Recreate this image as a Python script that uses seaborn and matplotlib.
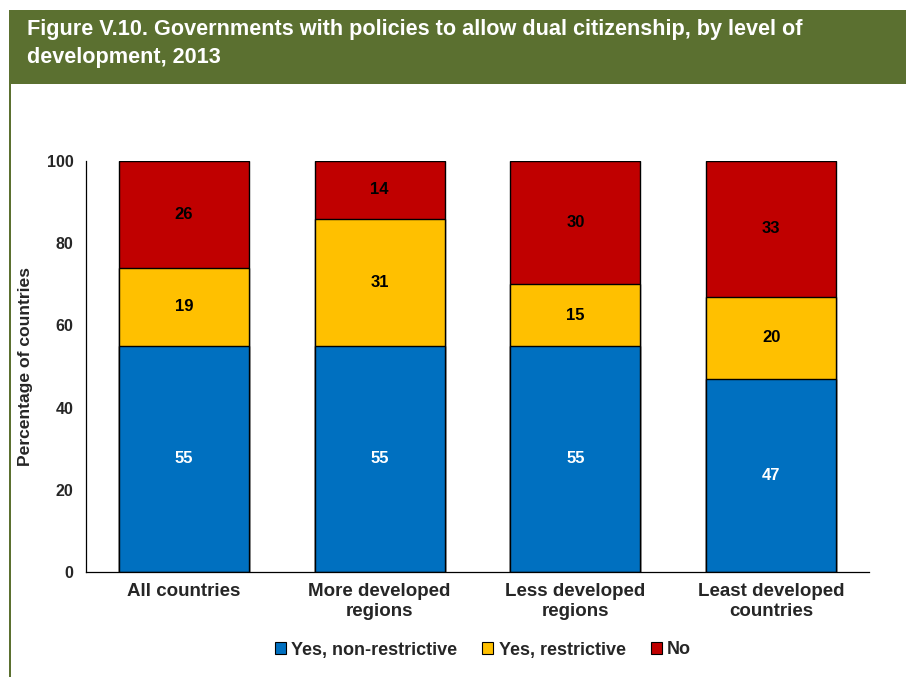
import matplotlib
matplotlib.use("Agg")
import matplotlib.pyplot as plt
from matplotlib.patches import Patch, Rectangle
import numpy as np
import pandas as pd
import seaborn as sns

categories = ["All countries", "More developed\nregions", "Less developed\nregions", "Least developed\ncountries"]
non_restrictive = [55, 55, 55, 47]
restrictive = [19, 31, 15, 20]
no_policy = [26, 14, 30, 33]
series_names = ["Yes, non-restrictive", "Yes, restrictive", "No"]
colors = ["#0070c0", "#ffc000", "#c00000"]
yticks = [0, 20, 40, 60, 80, 100]

sns.set_theme(style="white")
plt.rcParams["font.family"] = ["Liberation Sans", "DejaVu Sans"]
plt.rcParams["font.weight"] = "bold"

fig = plt.figure(figsize=(9.06, 6.77), dpi=100)

# Title banner and left frame line
fig.patches.append(Rectangle((9 / 906, 1 - 84 / 677), 1 - 9 / 906, 74 / 677,
                             transform=fig.transFigure, facecolor="#5b7030",
                             edgecolor="none", zorder=0))
fig.patches.append(Rectangle((9 / 906, 0), 2 / 906, 1 - 84 / 677,
                             transform=fig.transFigure, facecolor="#5b7030",
                             edgecolor="none", zorder=0))
fig.text(27 / 906, 1 - 30 / 677,
         "Figure V.10. Governments with policies to allow dual citizenship, by level of",
         color="white", fontsize=15.6, fontweight="bold", va="center", ha="left")
fig.text(27 / 906, 1 - 57 / 677, "development, 2013",
         color="white", fontsize=15.6, fontweight="bold", va="center", ha="left")

ax = fig.add_axes([86 / 906, 1 - 572 / 677, (869 - 86) / 906, (572 - 161) / 677])

df = pd.DataFrame({
    "category": categories,
    "blue": non_restrictive,
    "yellow": restrictive,
    "red": no_policy,
})
df["top_yellow"] = df["blue"] + df["yellow"]
df["top_red"] = df["top_yellow"] + df["red"]

# Stack by overlaying cumulative totals, tallest first
for col, c in [("top_red", colors[2]), ("top_yellow", colors[1]), ("blue", colors[0])]:
    sns.barplot(data=df, x="category", y=col, color=c, width=0.665,
                edgecolor="black", linewidth=1.0, saturation=1, ax=ax)

for i in range(len(categories)):
    b, y, r = non_restrictive[i], restrictive[i], no_policy[i]
    ax.text(i, b / 2, f"{b}", ha="center", va="center", color="white",
            fontsize=12, fontweight="bold")
    ax.text(i, b + y / 2, f"{y}", ha="center", va="center", color="black",
            fontsize=12, fontweight="bold")
    ax.text(i, b + y + r / 2, f"{r}", ha="center", va="center", color="black",
            fontsize=12, fontweight="bold")

ax.set_xlim(-0.5, 3.5)
ax.set_ylim(0, 100)
ax.set_yticks(yticks)
ax.set_yticklabels([str(t) for t in yticks], fontsize=11.5, fontweight="bold")
ax.set_xticks(range(len(categories)))
ax.set_xticklabels(categories, fontsize=13.5, fontweight="bold", linespacing=1.2)
ax.tick_params(axis="x", which="major", length=0, pad=8)
ax.set_xticks([0.5, 1.5, 2.5, 3.5], minor=True)
ax.tick_params(axis="x", which="minor", length=5, width=0.8, color="#808080", direction="out")
ax.tick_params(axis="y", length=5, width=0.8, color="black", direction="out", pad=4)
ax.set_xlabel("")
ax.set_ylabel("Percentage of countries", fontsize=12.6, fontweight="bold", labelpad=10)
for s in ["top", "right"]:
    ax.spines[s].set_visible(False)
for s in ["left", "bottom"]:
    ax.spines[s].set_color("black")
    ax.spines[s].set_linewidth(0.9)

handles = [Patch(facecolor=c, edgecolor="black", linewidth=0.8) for c in colors]
fig.legend(handles, series_names, loc="center", bbox_to_anchor=(483 / 906, 1 - 650 / 677),
           ncol=3, frameon=False, handlelength=0.6, handleheight=0.6, handletextpad=0.3,
           columnspacing=1.4, prop={"size": 13, "weight": "bold"})

fig.savefig("out.png", dpi=100)
